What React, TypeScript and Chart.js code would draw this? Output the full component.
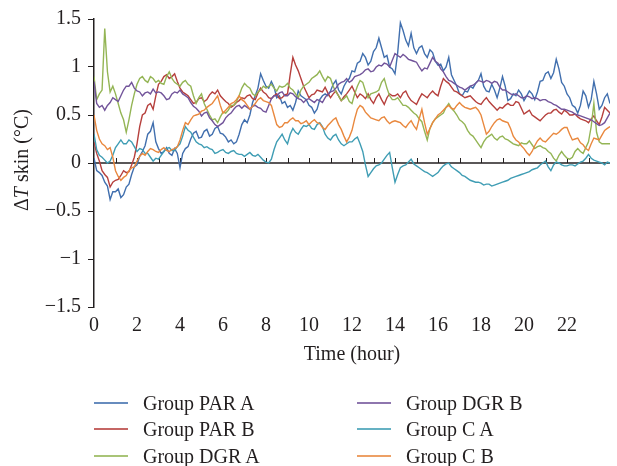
import React, { useEffect, useRef } from "react";
import { Chart, registerables } from "chart.js";

Chart.register(...registerables);

// records are read every quarter hour; *_MID hold the readings taken half way between them
const STEP_HOURS = 0.25;

const SERIES_NAMES = ["Group PAR A", "Group PAR B", "Group DGR A", "Group DGR B", "Group C A", "Group C B"];
const SERIES_COLORS = ["#416fae", "#b6403d", "#94b555", "#72549a", "#3f9db4", "#e9883e"];

const X_TICK_LABELS = ["0", "2", "4", "6", "8", "10", "12", "14", "16", "18", "20", "22"];
const Y_TICK_LABELS = ["\u22121.5", "\u22121", "\u22120.5", "0", "0.5", "1", "1.5"];

const PAR_A = [
  0.05, -0.1, -0.2, -0.38, -0.3, -0.36, -0.25, -0.12,
  -0.02, 0.12, 0.3, 0.42, 0.15, 0.12, 0.1, 0.15,
  -0.05, 0.15, 0.25, 0.33, 0.27, 0.35, 0.3, 0.38,
  0.3, 0.22, 0.2, 0.3, 0.45, 0.5, 0.7, 0.93,
  0.8, 0.85, 0.68, 0.62, 0.58, 0.55, 0.75, 0.68,
  0.6, 0.52, 0.66, 0.72, 0.75, 0.86, 0.72, 0.85,
  0.96, 1.04, 1.14, 1.02, 1.16, 1.3, 1.1, 1.0,
  0.93, 1.46, 1.28, 1.35, 1.14, 1.22, 1.1, 1.15,
  1.02, 0.96, 1.1, 0.86, 0.72, 0.75, 0.8, 0.83,
  0.93, 0.75, 0.82, 0.68, 0.9, 0.65, 0.72, 0.76,
  0.65, 0.75, 0.66, 0.85, 0.93, 0.88, 1.08, 0.84,
  0.72, 0.6, 0.52, 0.75, 0.58, 0.85, 0.56, 0.68,
  0.62,
];
const PAR_A_MID = [
  -0.08, -0.13, -0.24, -0.3, -0.27, -0.33, -0.22, -0.04,
  0.07, 0.18, 0.33, 0.22, 0.1, 0.16, 0.08, 0.1,
  0.1, 0.17, 0.31, 0.26, 0.33, 0.28, 0.36, 0.31,
  0.27, 0.24, 0.22, 0.4, 0.42, 0.63, 0.78, 0.86,
  0.78, 0.79, 0.7, 0.64, 0.6, 0.63, 0.7, 0.66,
  0.58, 0.56, 0.7, 0.7, 0.82, 0.76, 0.8, 0.88,
  0.95, 1.06, 1.1, 1.06, 1.2, 1.2, 1.12, 0.98,
  1.15, 1.38, 1.22, 1.2, 1.2, 1.14, 1.18, 1.06,
  1.03, 1.0, 0.92, 0.8, 0.7, 0.74, 0.78, 0.86,
  0.8, 0.74, 0.76, 0.78, 0.8, 0.67, 0.7, 0.72,
  0.7, 0.72, 0.74, 0.86, 0.95, 0.94, 0.98, 0.8,
  0.68, 0.58, 0.6, 0.7, 0.66, 0.72, 0.6, 0.72,
];

const PAR_B = [
  0.22, 0.02, -0.12, -0.25, -0.18, -0.13, -0.1, -0.02,
  0.2, 0.5, 0.6, 0.56, 0.82, 0.9, 0.88, 0.93,
  0.78, 0.72, 0.66, 0.63, 0.68, 0.66, 0.74, 0.76,
  0.67, 0.62, 0.6, 0.65, 0.67, 0.71, 0.66, 0.78,
  0.72, 0.67, 0.72, 0.68, 0.72, 1.1, 0.96, 0.8,
  0.68, 0.72, 0.75, 0.79, 0.68, 0.75, 0.65, 0.72,
  0.8, 0.68, 0.7, 0.72, 0.62, 0.72, 0.61, 0.72,
  0.7, 0.68, 0.75, 0.65, 0.61, 0.72, 0.68, 0.75,
  0.7, 0.88, 0.83, 0.75, 0.72, 0.68, 0.7, 0.64,
  0.61, 0.68, 0.61, 0.55, 0.57, 0.62, 0.6, 0.63,
  0.51, 0.55, 0.48, 0.44, 0.5, 0.52, 0.56, 0.51,
  0.53, 0.5, 0.48, 0.45, 0.42, 0.49, 0.4, 0.58,
  0.52,
];
const PAR_B_MID = [
  0.1, -0.08, -0.15, -0.2, -0.17, -0.08, -0.09, 0.06,
  0.38, 0.52, 0.62, 0.7, 0.85, 0.92, 0.9, 0.85,
  0.74, 0.7, 0.62, 0.67, 0.64, 0.71, 0.72, 0.7,
  0.64, 0.58, 0.63, 0.68, 0.7, 0.67, 0.73, 0.74,
  0.68, 0.7, 0.67, 0.71, 0.92, 1.02, 0.88, 0.74,
  0.71, 0.76, 0.74, 0.73, 0.72, 0.7, 0.69, 0.76,
  0.74, 0.72, 0.67, 0.66, 0.68, 0.66, 0.68, 0.7,
  0.72, 0.73, 0.69, 0.63, 0.67, 0.7, 0.72, 0.72,
  0.8, 0.85, 0.79, 0.74, 0.7, 0.69, 0.67, 0.62,
  0.65, 0.64, 0.58, 0.58, 0.6, 0.6, 0.64, 0.57,
  0.53, 0.5, 0.46, 0.47, 0.52, 0.55, 0.53, 0.55,
  0.5, 0.51, 0.46, 0.44, 0.46, 0.44, 0.48, 0.55,
];

const DGR_A = [
  0.9, 0.72, 1.4, 0.74, 0.72, 0.52, 0.32, 0.6,
  0.82, 0.9, 0.84, 0.88, 0.86, 0.82, 0.95, 0.84,
  0.8, 0.86, 0.8, 0.62, 0.72, 0.56, 0.45, 0.42,
  0.53, 0.55, 0.6, 0.7, 0.83, 0.78, 0.7, 0.76,
  0.78, 0.82, 0.75, 0.79, 0.83, 0.76, 0.68, 0.8,
  0.84, 0.9, 0.96, 0.85, 0.88, 0.74, 0.65, 0.7,
  0.62, 0.8, 0.84, 0.68, 0.73, 0.76, 0.88, 0.7,
  0.66, 0.64, 0.6, 0.55, 0.5, 0.43, 0.24, 0.42,
  0.48, 0.52, 0.62, 0.54, 0.45, 0.4, 0.3, 0.24,
  0.16, 0.26, 0.3, 0.24, 0.28, 0.24, 0.2, 0.18,
  0.2, 0.23, 0.15, 0.18, 0.15, 0.1, 0.02, 0.12,
  0.05, 0.06, 0.15, 0.1, 0.22, 0.62, 0.22, 0.2,
  0.2,
];
const DGR_A_MID = [
  0.66, 0.76, 0.95, 0.8, 0.62, 0.45, 0.45, 0.72,
  0.88, 0.86, 0.9, 0.84, 0.83, 0.9, 0.88, 0.82,
  0.84, 0.82, 0.7, 0.68, 0.62, 0.5, 0.46, 0.48,
  0.52, 0.6, 0.64, 0.78, 0.8, 0.72, 0.74, 0.8,
  0.8, 0.78, 0.8, 0.8, 0.78, 0.72, 0.76, 0.82,
  0.88, 0.92, 0.9, 0.9, 0.8, 0.7, 0.67, 0.64,
  0.72, 0.86, 0.75, 0.72, 0.74, 0.84, 0.78, 0.66,
  0.68, 0.6, 0.58, 0.52, 0.46, 0.33, 0.36, 0.46,
  0.5, 0.58, 0.57, 0.5, 0.43, 0.34, 0.28, 0.2,
  0.22, 0.28, 0.26, 0.27, 0.25, 0.22, 0.19, 0.21,
  0.2, 0.19, 0.17, 0.16, 0.12, 0.05, 0.08, 0.08,
  0.04, 0.12, 0.12, 0.16, 0.38, 0.32, 0.2, 0.2,
];

const DGR_B = [
  0.85, 0.58, 0.55, 0.63, 0.66, 0.7, 0.8, 0.84,
  0.75, 0.7, 0.74, 0.77, 0.74, 0.7, 0.67, 0.74,
  0.76, 0.7, 0.63, 0.57, 0.49, 0.53, 0.44, 0.38,
  0.42, 0.5, 0.56, 0.6, 0.6, 0.56, 0.6, 0.57,
  0.53, 0.67, 0.7, 0.74, 0.7, 0.72, 0.67, 0.63,
  0.67, 0.63, 0.65, 0.68, 0.74, 0.78, 0.84, 0.88,
  0.86, 0.91, 0.94, 0.98, 0.96, 1.02, 1.04, 1.0,
  1.14, 1.1, 1.11, 1.07, 1.05, 0.96, 0.98, 1.1,
  1.04, 0.95, 0.86, 0.83, 0.79, 0.76, 0.8, 0.83,
  0.85, 0.86, 0.83, 0.84, 0.76, 0.74, 0.71, 0.7,
  0.68, 0.69, 0.68, 0.65, 0.66, 0.63, 0.6, 0.56,
  0.55, 0.53, 0.5, 0.48, 0.46, 0.43, 0.39, 0.42,
  0.52,
];
const DGR_B_MID = [
  0.62, 0.6, 0.6, 0.68, 0.64, 0.76, 0.8, 0.78,
  0.74, 0.73, 0.72, 0.73, 0.73, 0.66, 0.72, 0.73,
  0.72, 0.68, 0.59, 0.54, 0.52, 0.47, 0.4, 0.4,
  0.47, 0.52, 0.59, 0.57, 0.58, 0.59, 0.58, 0.54,
  0.6, 0.7, 0.73, 0.7, 0.73, 0.69, 0.66, 0.66,
  0.65, 0.66, 0.63, 0.72, 0.75, 0.82, 0.85, 0.84,
  0.9, 0.92, 0.97, 0.95, 1.0, 1.01, 1.03, 1.07,
  1.12, 1.13, 1.08, 1.06, 1.0, 0.99, 1.04, 1.06,
  0.98, 0.9, 0.85, 0.81, 0.78, 0.78, 0.81, 0.86,
  0.84, 0.85, 0.85, 0.79, 0.76, 0.72, 0.72, 0.68,
  0.7, 0.67, 0.67, 0.66, 0.64, 0.61, 0.58, 0.56,
  0.54, 0.51, 0.49, 0.47, 0.45, 0.41, 0.4, 0.47,
];

const C_A = [
  0.3, 0.08, 0.03, 0.02, 0.16, 0.24, 0.2, 0.22,
  0.12, 0.14, 0.1, 0.02, 0.04, 0.12, 0.16, 0.13,
  0.2, 0.38, 0.32, 0.22, 0.19, 0.17, 0.14, 0.11,
  0.14, 0.1, 0.13, 0.09, 0.07, 0.11, 0.07, 0.06,
  0.01, 0.04, 0.22, 0.3, 0.2, 0.36, 0.3, 0.39,
  0.4, 0.35, 0.42, 0.3, 0.24, 0.3, 0.2, 0.2,
  0.22, 0.27, 0.12, -0.14, -0.06, -0.02, 0.04, 0.11,
  -0.2, -0.05, -0.02, 0.04, -0.03, -0.07, -0.1, -0.14,
  -0.1, -0.03, 0.0, -0.06, -0.1, -0.14, -0.18, -0.2,
  -0.21, -0.22, -0.24, -0.22, -0.2, -0.18, -0.15, -0.13,
  -0.11, -0.09, -0.06, -0.02, 0.02, -0.08, 0.01, -0.02,
  -0.03, -0.02, -0.01, 0.02, 0.09, 0.03, 0.01, -0.02,
  0.0,
];
const C_A_MID = [
  0.14, 0.06, 0.0, 0.08, 0.2, 0.2, 0.24, 0.17,
  0.15, 0.1, 0.06, 0.05, 0.08, 0.15, 0.13, 0.17,
  0.28, 0.34, 0.27, 0.2, 0.16, 0.15, 0.1, 0.13,
  0.11, 0.12, 0.1, 0.09, 0.09, 0.08, 0.09, 0.03,
  0.0, 0.14, 0.26, 0.24, 0.3, 0.32, 0.35, 0.38,
  0.36, 0.4, 0.38, 0.26, 0.28, 0.24, 0.18, 0.22,
  0.25, 0.2, -0.02, -0.1, -0.03, 0.0, 0.08, -0.05,
  -0.12, -0.03, 0.01, -0.01, -0.05, -0.09, -0.12, -0.12,
  -0.06, -0.01, -0.04, -0.08, -0.13, -0.16, -0.19, -0.2,
  -0.23, -0.22, -0.23, -0.21, -0.19, -0.16, -0.14, -0.12,
  -0.1, -0.07, -0.05, 0.0, -0.04, -0.02, 0.0, -0.03,
  -0.02, -0.03, 0.01, 0.05, 0.05, 0.02, 0.0, 0.01,
];

const C_B = [
  0.5, 0.25, 0.18, 0.16, -0.08, -0.18, -0.13, -0.05,
  0.02, 0.1, 0.12, 0.14, 0.11, 0.16, 0.12, 0.15,
  0.24, 0.42, 0.45, 0.5, 0.54, 0.58, 0.62, 0.7,
  0.52, 0.58, 0.63, 0.7, 0.64, 0.56, 0.62, 0.68,
  0.64, 0.6, 0.4, 0.38, 0.42, 0.47, 0.44, 0.42,
  0.4, 0.45, 0.41, 0.35, 0.42, 0.47, 0.35, 0.22,
  0.34, 0.56, 0.58, 0.5, 0.46, 0.44, 0.48, 0.41,
  0.44, 0.42, 0.37, 0.44, 0.35, 0.56, 0.3, 0.42,
  0.5, 0.55, 0.6, 0.56, 0.63, 0.58, 0.56, 0.58,
  0.5, 0.3, 0.38, 0.45, 0.44, 0.42, 0.28, 0.22,
  0.15, 0.08, 0.18, 0.26, 0.22, 0.28, 0.3, 0.35,
  0.37, 0.24, 0.26, 0.19, 0.13, 0.26, 0.24, 0.34,
  0.38,
];
const C_B_MID = [
  0.34, 0.2, 0.14, 0.06, -0.14, -0.15, -0.08, -0.04,
  0.07, 0.08, 0.15, 0.12, 0.14, 0.13, 0.14, 0.17,
  0.34, 0.4, 0.49, 0.51, 0.55, 0.6, 0.66, 0.6,
  0.55, 0.62, 0.66, 0.66, 0.6, 0.59, 0.66, 0.65,
  0.63, 0.5, 0.37, 0.42, 0.45, 0.44, 0.41, 0.44,
  0.43, 0.42, 0.37, 0.39, 0.45, 0.4, 0.28, 0.27,
  0.46, 0.6, 0.53, 0.47, 0.45, 0.47, 0.44, 0.43,
  0.43, 0.39, 0.41, 0.39, 0.46, 0.42, 0.36, 0.46,
  0.52, 0.58, 0.57, 0.6, 0.6, 0.57, 0.57, 0.55,
  0.4, 0.33, 0.42, 0.46, 0.43, 0.36, 0.24, 0.18,
  0.11, 0.12, 0.23, 0.23, 0.25, 0.31, 0.32, 0.37,
  0.3, 0.25, 0.21, 0.15, 0.2, 0.25, 0.29, 0.36,
];

const SERIES_VALUES = [PAR_A, PAR_B, DGR_A, DGR_B, C_A, C_B];
const SERIES_MID_VALUES = [PAR_A_MID, PAR_B_MID, DGR_A_MID, DGR_B_MID, C_A_MID, C_B_MID];

const FONT = "'Liberation Serif', 'DejaVu Serif', serif";
const INK = "#231f20";

function buildPoints(main: number[], mid: number[]) {
  const pts: { x: number; y: number }[] = [];
  main.forEach((v, k) => {
    pts.push({ x: k * STEP_HOURS, y: v });
    if (k < mid.length && k < main.length - 1) {
      pts.push({ x: k * STEP_HOURS + STEP_HOURS / 2, y: mid[k] });
    }
  });
  return pts;
}

const zeroAxisPlugin = {
  id: "zeroAxis",
  beforeDatasetsDraw(chart: any) {
    const { ctx, chartArea, scales } = chart;
    const y0 = scales.y.getPixelForValue(0);
    ctx.save();
    ctx.strokeStyle = INK;
    ctx.lineWidth = 1.5;
    ctx.beginPath();
    ctx.moveTo(chartArea.left, y0);
    ctx.lineTo(chartArea.right, y0);
    ctx.stroke();
    ctx.lineWidth = 1;
    ctx.beginPath();
    for (let h = 1; h < 24; h++) {
      const x = Math.round(scales.x.getPixelForValue(h)) + 0.5;
      ctx.moveTo(x, y0);
      ctx.lineTo(x, y0 - 5);
    }
    ctx.stroke();
    ctx.restore();
  },
  afterDraw(chart: any) {
    const { ctx, chartArea } = chart;
    const cy = (chartArea.top + chartArea.bottom) / 2 - 3;
    const parts = [
      { t: "\u0394", f: `20px ${FONT}` },
      { t: "T", f: `italic 20px ${FONT}` },
      { t: " skin (\u00b0C)", f: `20px ${FONT}` },
    ];
    ctx.save();
    let total = 0;
    const widths = parts.map((p) => {
      ctx.font = p.f;
      const w = ctx.measureText(p.t).width;
      total += w;
      return w;
    });
    ctx.translate(28, cy);
    ctx.rotate(-Math.PI / 2);
    ctx.fillStyle = INK;
    ctx.textBaseline = "alphabetic";
    ctx.textAlign = "left";
    let x = -total / 2;
    parts.forEach((p, i) => {
      ctx.font = p.f;
      ctx.fillText(p.t, x, 0);
      x += widths[i];
    });
    ctx.restore();
  },
};

const LEGEND_SLOTS = [
  { left: 94, top: 390 },
  { left: 94, top: 416 },
  { left: 94, top: 443 },
  { left: 357, top: 390 },
  { left: 357, top: 416 },
  { left: 357, top: 443 },
];

export default function App() {
  const canvasRef = useRef<HTMLCanvasElement | null>(null);

  useEffect(() => {
    if (!canvasRef.current) return;
    const datasets = SERIES_NAMES.map((name, i) => ({
      label: name,
      data: buildPoints(SERIES_VALUES[i], SERIES_MID_VALUES[i]),
      borderColor: SERIES_COLORS[i],
      backgroundColor: SERIES_COLORS[i],
      borderWidth: 1.4,
      pointRadius: 0,
      tension: 0,
      fill: false,
      order: -i,
    }));
    const chart = new Chart(canvasRef.current, {
      type: "line",
      data: { datasets },
      plugins: [zeroAxisPlugin],
      options: {
        animation: false,
        responsive: false,
        maintainAspectRatio: false,
        layout: { padding: { top: 15, right: 0, bottom: 99, left: 0 } },
        plugins: { legend: { display: false }, tooltip: { enabled: false } },
        scales: {
          x: {
            type: "linear",
            min: 0,
            max: 24,
            grid: { display: false, drawTicks: false },
            border: { display: false },
            ticks: {
              stepSize: 2,
              autoSkip: false,
              maxRotation: 0,
              padding: 7,
              color: INK,
              font: { family: FONT, size: 20 },
              callback: (v: any) => (Number(v) < 24 ? X_TICK_LABELS[Math.round(Number(v) / 2)] : ""),
            },
            title: {
              display: true,
              text: "Time (hour)",
              color: INK,
              font: { family: FONT, size: 20 },
              padding: { top: 0, bottom: 0 },
            },
            afterFit: (scale: any) => {
              scale.height = 60;
            },
          },
          y: {
            min: -1.5,
            max: 1.5,
            grid: { display: true, drawOnChartArea: false, tickLength: 6, tickColor: INK, tickWidth: 1 },
            border: { display: true, color: INK, width: 1.5 },
            ticks: {
              stepSize: 0.5,
              padding: 7,
              color: INK,
              font: { family: FONT, size: 20 },
              callback: (v: any) => Y_TICK_LABELS[Math.round((Number(v) + 1.5) / 0.5)],
            },
            afterFit: (scale: any) => {
              scale.width = 94;
            },
          },
        },
      },
    });
    return () => chart.destroy();
  }, []);

  return (
    <div style={{ position: "absolute", left: 0, top: 0, width: 617, height: 466, background: "#fff" }}>
      <canvas ref={canvasRef} width={617} height={466} style={{ display: "block" }} />
      {SERIES_NAMES.map((name, i) => (
        <div
          key={name}
          style={{
            position: "absolute",
            left: LEGEND_SLOTS[i].left,
            top: LEGEND_SLOTS[i].top,
            height: 26,
            display: "flex",
            alignItems: "center",
            whiteSpace: "nowrap",
            fontFamily: FONT,
            fontSize: 20,
            color: INK,
          }}
        >
          <span style={{ display: "inline-block", width: 34, height: 2, background: SERIES_COLORS[i], opacity: 0.8, marginRight: 15 }} />
          <span>{name}</span>
        </div>
      ))}
    </div>
  );
}
